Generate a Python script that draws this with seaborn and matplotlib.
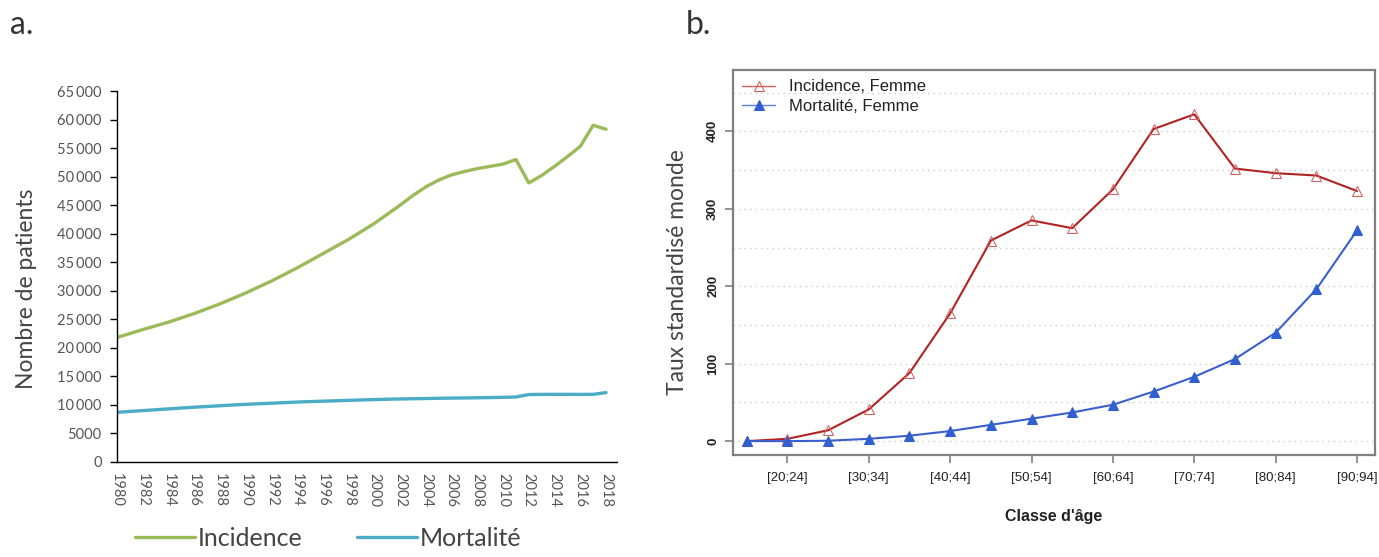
import numpy as np
import pandas as pd
import seaborn as sns
import matplotlib.pyplot as plt
from matplotlib.ticker import FuncFormatter, MultipleLocator

# --- a. : nombre de patients par année
annees = list(range(1980, 2019))
incidence = [21800, 22500, 23200, 23850, 24500, 25250, 26000, 26850, 27700, 28650,
             29600, 30650, 31700, 32850, 34000, 35250, 36500, 37750, 39000, 40400,
             41800, 43400, 45000, 46700, 48200, 49400, 50300, 50900, 51400, 51800,
             52200, 53000, 48900, 50200, 51800, 53500, 55300, 59000, 58300]
mortalite = [8700, 8850, 9000, 9150, 9300, 9450, 9600, 9720, 9850, 9980,
             10100, 10200, 10300, 10400, 10500, 10580, 10650, 10720, 10800, 10870,
             10930, 10990, 11040, 11080, 11120, 11160, 11190, 11220, 11250, 11280,
             11330, 11380, 11820, 11840, 11850, 11850, 11840, 11850, 12160]

# --- b. : taux standardisés par classe d'âge
age_debut = [15, 20, 25, 30, 35, 40, 45, 50, 55, 60, 65, 70, 75, 80, 85, 90]
taux_incidence = [0, 3, 14, 41, 88, 165, 259, 285, 275, 325, 403, 422, 352, 346, 343, 323]
taux_mortalite = [0, 0, 0.5, 3, 7, 13, 21, 29, 37, 47, 64, 83, 106, 140, 196, 272]
ticks_age = [20, 30, 40, 50, 60, 70, 80, 90]
labels_age = ['[20;24]', '[30;34]', '[40;44]', '[50;54]', '[60;64]',
              '[70;74]', '[80;84]', '[90;94]']

sns.set_theme(style='white')
plt.rcParams['font.family'] = ['Lato', 'DejaVu Sans']

df_a = pd.DataFrame({'annee': annees * 2,
                     'valeur': incidence + mortalite,
                     'serie': ['Incidence'] * len(annees) + ['Mortalité'] * len(annees)})
df_b = pd.DataFrame({'age': age_debut * 2,
                     'taux': taux_incidence + taux_mortalite,
                     'serie': ['Incidence, Femme'] * len(age_debut) + ['Mortalité, Femme'] * len(age_debut)})

ROUGE = '#B22222'
BLEU = '#3A5FCD'

fig = plt.figure(figsize=(13.79, 5.57), dpi=100)

# ---------------- panneau a
ax1 = fig.add_axes([0.0848, 0.1706, 0.3626, 0.666])
sns.lineplot(data=df_a, x='annee', y='valeur', hue='serie',
             palette={'Incidence': '#9BBB59', 'Mortalité': '#4BACC6'},
             linewidth=2.4, ax=ax1, legend=False)
ax1.set_xlim(1980, 2018.85)
ax1.set_ylim(0, 65000)
ax1.set_xticks(range(1980, 2019, 2))
ax1.yaxis.set_major_locator(MultipleLocator(5000))


def milliers(v, pos):
    v = int(round(v))
    if v >= 10000:
        return f'{v:,}'.replace(',', '\u2009')
    return str(v)


ax1.yaxis.set_major_formatter(FuncFormatter(milliers))
for s in ['top', 'right']:
    ax1.spines[s].set_visible(False)
for s in ['left', 'bottom']:
    ax1.spines[s].set_color('black')
    ax1.spines[s].set_linewidth(1.0)
ax1.tick_params(axis='x', direction='in', length=5, width=1, color='black',
                labelsize=10.5, labelcolor='#555555', rotation=-90, pad=8)
ax1.tick_params(axis='y', direction='out', length=5, width=1, color='black',
                labelsize=10.5, labelcolor='#555555', pad=6, left=True)
ax1.set_xlabel('')
ax1.set_ylabel('Nombre de patients', fontsize=16.5, color='#444444')
ax1.yaxis.set_label_coords(-0.16, 0.466)

h_inc, = ax1.plot([], [], color='#9BBB59', linewidth=2.4)
h_mor, = ax1.plot([], [], color='#4BACC6', linewidth=2.4)
leg = fig.legend([h_inc, h_mor], ['Incidence', 'Mortalité'], loc='lower center',
                 bbox_to_anchor=(0.238, -0.027), ncol=2, frameon=False,
                 fontsize=18, handlelength=2.4, handletextpad=0.1, columnspacing=2.2)
for t in leg.get_texts():
    t.set_color('#444444')

fig.text(0.007, 0.955, 'a.', fontsize=23, color='#333333', va='center')
fig.text(0.497, 0.955, 'b.', fontsize=23, color='#333333', va='center')

# ---------------- panneau b
ax2 = fig.add_axes([0.5315, 0.183, 0.4655, 0.691])
ax2.set_ylim(-18, 479)
ax2.set_xlim(13.3, 92.2)
for yv in range(0, 451, 50):
    ax2.axhline(yv, color='#cccccc', linestyle=(0, (1, 3)), linewidth=1.0, zorder=0)

sns.lineplot(data=df_b, x='age', y='taux', hue='serie', style='serie',
             palette={'Incidence, Femme': ROUGE, 'Mortalité, Femme': BLEU},
             markers={'Incidence, Femme': '^', 'Mortalité, Femme': '^'},
             dashes=False, linewidth=1.5, markersize=7, ax=ax2)
# marqueurs : triangles vides en rouge, pleins en bleu
for ln in ax2.lines:
    c = str(ln.get_color()).lower()
    if c == ROUGE.lower():
        ln.set_markerfacecolor('none')
        ln.set_markeredgecolor('#D0605E')
    elif c == BLEU.lower():
        ln.set_markerfacecolor('#2F5FD0')
        ln.set_markeredgecolor('#2F5FD0')

ax2.set_xticks(ticks_age)
ax2.set_xticklabels(labels_age)
ax2.set_yticks([0, 100, 200, 300, 400])
for s in ax2.spines.values():
    s.set_color('#808080')
    s.set_linewidth(1.6)
ax2.tick_params(axis='x', direction='out', length=6, width=1.2, color='#808080',
                labelsize=9.5, labelcolor='#222222', pad=6, bottom=True)
ax2.tick_params(axis='y', direction='out', length=6, width=1.2, color='#808080',
                labelsize=9.5, labelcolor='#222222', pad=4, left=True)
for lab in ax2.get_xticklabels():
    lab.set_family(['Liberation Sans', 'DejaVu Sans'])
for lab in ax2.get_yticklabels():
    lab.set_family(['Liberation Sans', 'DejaVu Sans'])
    lab.set_rotation(90)
    lab.set_va('center')
    lab.set_fontweight('bold')
ax2.set_xlabel("Classe d'âge", fontsize=11.5, fontweight='bold',
               family=['Liberation Sans', 'DejaVu Sans'], labelpad=18, color='#222222')
ax2.set_ylabel('Taux standardisé monde', fontsize=16.5, color='#444444')
ax2.yaxis.set_label_coords(-0.07, 0.475)

leg2 = ax2.legend(loc='upper left', frameon=False, fontsize=12, handlelength=2.0,
                  borderaxespad=0.15, handletextpad=0.8, labelspacing=0.25)
for t in leg2.get_texts():
    t.set_family(['Liberation Sans', 'DejaVu Sans'])
    t.set_color('#222222')
for h in leg2.legend_handles:
    c = str(h.get_color()).lower()
    h.set_linewidth(1.0)
    if c == ROUGE.lower():
        h.set_color('#D0605E')
        h.set_markerfacecolor('none')
        h.set_markeredgecolor('#D0605E')
    else:
        h.set_color('#5B80D6')
        h.set_markerfacecolor('#2F5FD0')
        h.set_markeredgecolor('#2F5FD0')

fig.savefig('out.png', dpi=100)
